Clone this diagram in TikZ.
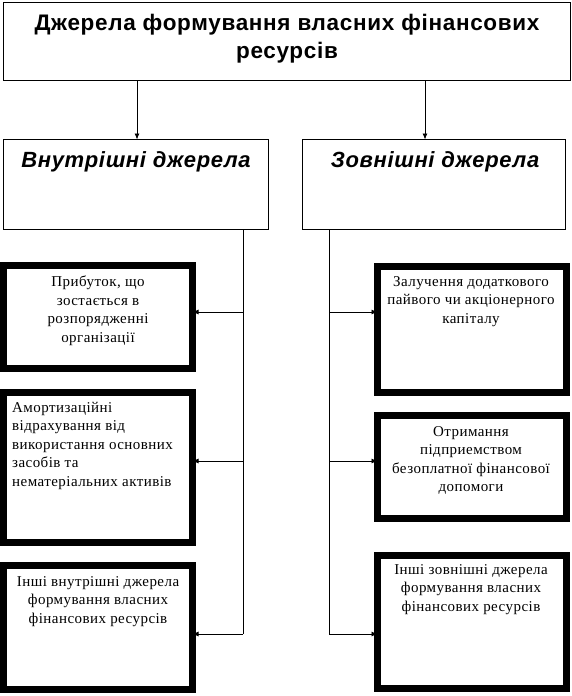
\documentclass[tikz,border=0pt]{standalone}
\usepackage{fontspec}
\setmainfont{Liberation Serif}[LetterSpace=3]
\newfontfamily\arialf{Liberation Sans}
\newfontfamily\arialsp{Liberation Sans}[LetterSpace=3]
\usetikzlibrary{arrows.meta}
\begin{document}
\begin{tikzpicture}[x=1pt,y=-1pt,
  thinbox/.style={draw,line width=0.8pt,inner sep=0pt,outer sep=0pt,anchor=north west},
  thickbox/.style={draw,line width=7pt,inner sep=0pt,outer sep=0pt,anchor=north west,minimum width=189pt},
  boxtext/.style={inner sep=0pt,anchor=north,align=center,font=\fontsize{15}{18.5}\selectfont},
  subtitle/.style={inner sep=0pt,anchor=north,font=\arialsp\bfseries\itshape\fontsize{22}{24}\selectfont},
  conn/.style={line width=0.8pt},
  arr/.style={line width=0.8pt,-{Latex[length=6pt,width=5pt]}}]
\useasboundingbox (0,0) rectangle (572,696);
% top
\node[thinbox,minimum width=567pt,minimum height=78.5pt] (top) at (3.5,2) {};
\node[inner sep=0pt,anchor=north,align=center,font=\arialsp\bfseries\fontsize{22.5}{28}\selectfont] (toptxt) at (287,14) {Джерела формування власних фінансових\\ресурсів};
% second level
\node[thinbox,minimum width=265pt,minimum height=90pt] (lin) at (3.5,139.5) {};
\node[thinbox,minimum width=263pt,minimum height=90pt] (rin) at (302.5,139.5) {};
\node[subtitle] (lintxt) at (136,151) {Внутрішні джерела};
\node[subtitle] (rintxt) at (435,151) {Зовнішні джерела};
% arrows from top
\coordinate (a1) at (137,139.5);
\coordinate (a2) at (425,139.5);
\draw[arr] (top.south -| a1) -- (a1);
\draw[arr] (top.south -| a2) -- (a2);
% left boxes
\node[thickbox,minimum height=103pt] (l1) at (3.5,265.5) {};
\node[thickbox,minimum height=150pt] (l2) at (3.5,392.5) {};
\node[thickbox,minimum height=124pt] (l3) at (3.5,565.5) {};
\node[boxtext] (l1t) at (98,276) {Прибуток, що\\зостається в\\розпорядженні\\організації};
\node[boxtext,anchor=north west,align=left] (l2t) at (12,402) {Амортизаційні\\відрахування від\\використання основних\\засобів та\\нематеріальних активів};
\node[boxtext] (l3t) at (98,576) {Інші внутрішні джерела\\формування власних\\фінансових ресурсів};
% right boxes
\node[thickbox,minimum height=126pt] (r1) at (377.5,266.5) {};
\node[thickbox,minimum height=103pt] (r2) at (377.5,415.5) {};
\node[thickbox,minimum height=133pt] (r3) at (377.5,555.5) {};
\node[boxtext] (r1t) at (471,276) {Залучення додаткового\\пайвого чи акціонерного\\капіталу};
\node[boxtext] (r2t) at (471,426) {Отримання\\підприемством\\безоплатної фінансової\\допомоги};
\node[boxtext] (r3t) at (471,564) {Інші зовнішні джерела\\формування власних\\фінансових ресурсів};
% left trunk
\coordinate (lv) at (243,634);
\coordinate (ly1) at (243,312);
\coordinate (ly2) at (243,461);
\draw[conn] (lin.south -| lv) -- (lv);
\draw[arr] (ly1) -- (ly1 -| l1.east);
\draw[arr] (ly2) -- (ly2 -| l2.east);
\draw[arr] (lv) -- (lv -| l3.east);
% right trunk
\coordinate (rv) at (329,634);
\coordinate (ry1) at (329,312);
\coordinate (ry2) at (329,461);
\draw[conn] (rin.south -| rv) -- (rv);
\draw[arr] (ry1) -- (ry1 -| r1.west);
\draw[arr] (ry2) -- (ry2 -| r2.west);
\draw[arr] (rv) -- (rv -| r3.west);
\end{tikzpicture}
\end{document}
